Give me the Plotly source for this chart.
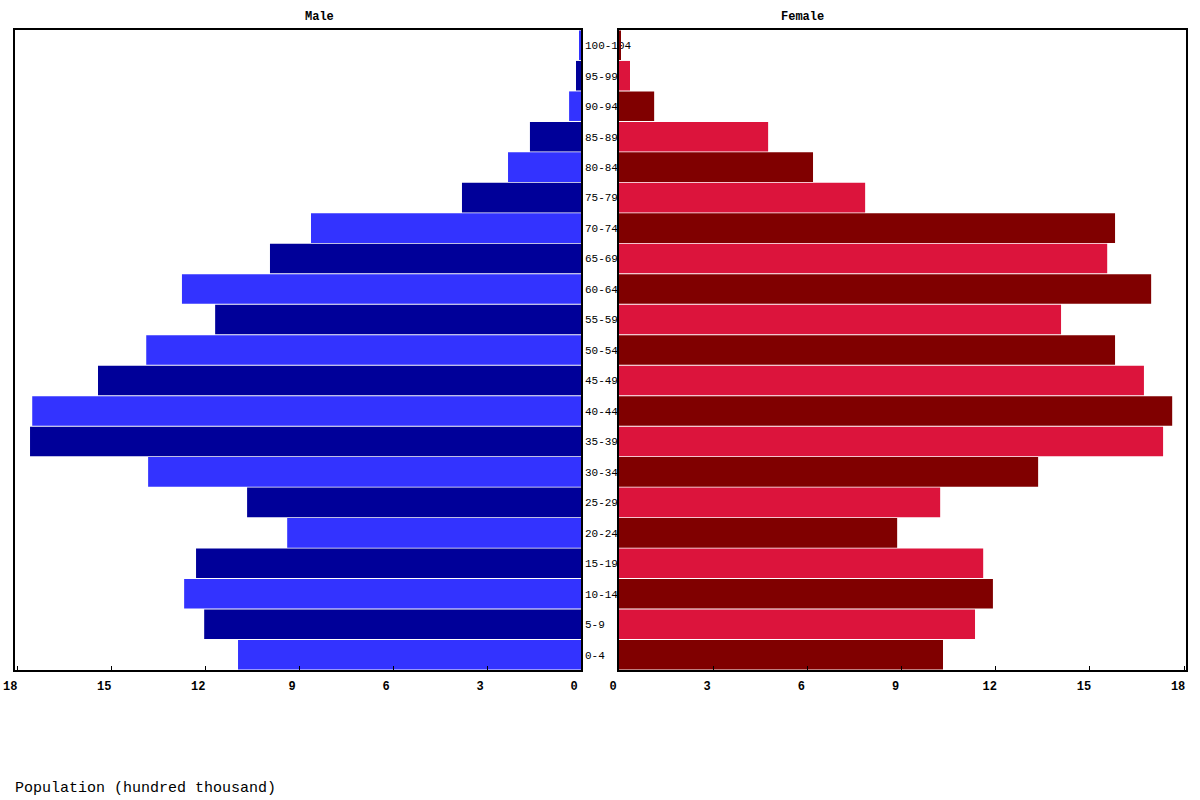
import plotly.graph_objects as go
from plotly.subplots import make_subplots

age_groups = ['0-4', '5-9', '10-14', '15-19', '20-24', '25-29', '30-34', '35-39', '40-44',
              '45-49', '50-54', '55-59', '60-64', '65-69', '70-74', '75-79', '80-84',
              '85-89', '90-94', '95-99', '100-104']

# population in hundred thousand
male = [10.95, 12.03, 12.67, 12.29, 9.38, 10.66, 13.82, 17.59, 17.52, 15.42, 13.88,
        11.68, 12.74, 9.93, 8.62, 3.80, 2.33, 1.63, 0.38, 0.16, 0.06]
female = [10.32, 11.34, 11.91, 11.60, 8.86, 10.23, 13.35, 17.33, 17.62, 16.72, 15.80,
          14.08, 16.95, 15.55, 15.80, 7.84, 6.18, 4.75, 1.12, 0.35, 0.06]

tick_values = [0, 3, 6, 9, 12, 15, 18]

MONO = 'Liberation Mono'
W, H = 1200, 800
L, R, T, B = 15, 14, 30, 130


def px_x(px):
    return (px - L) / (W - L - R)


def px_y(px):
    return (H - B - px) / (H - T - B)


male_colors = ['#3333ff' if i % 2 == 0 else '#000099' for i in range(len(age_groups))]
female_colors = ['#800000' if i % 2 == 0 else '#dc143c' for i in range(len(age_groups))]

fig = make_subplots(rows=1, cols=2, horizontal_spacing=0.0)

fig.add_trace(go.Bar(y=age_groups, x=male, orientation='h', marker=dict(color=male_colors, line=dict(width=0)),
                     name='Male', showlegend=False), row=1, col=1)
fig.add_trace(go.Bar(y=age_groups, x=female, orientation='h', marker=dict(color=female_colors, line=dict(width=0)),
                     name='Female', showlegend=False), row=1, col=2)

axis_common = dict(showline=True, linecolor='black', linewidth=1.5, mirror=True, showgrid=False,
                   zeroline=False, automargin=False)
xtick_font = dict(family=MONO, size=12, color='black', weight='bold')

# male axis is reversed, so a positive shift moves its labels left on screen
fig.update_xaxes(**axis_common, domain=[0, px_x(581)], range=[18.07, 0], tickvals=tick_values,
                 ticks='inside', ticklen=4, tickcolor='black', ticklabelshift=7, ticklabelstandoff=4,
                 tickfont=xtick_font, row=1, col=1)
fig.update_xaxes(**axis_common, domain=[px_x(619), 1.0], range=[0, 18.06], tickvals=tick_values,
                 ticks='inside', ticklen=4, tickcolor='black', ticklabelshift=-6, ticklabelstandoff=4,
                 tickfont=xtick_font, row=1, col=2)

fig.update_yaxes(**axis_common, side='right', ticks='', ticklabelstandoff=0,
                 tickfont=dict(family=MONO, size=11, color='black'), row=1, col=1)
fig.update_yaxes(**axis_common, showticklabels=False, ticks='', row=1, col=2)

fig.add_annotation(text='<b>Male</b>', xref='paper', yref='paper', x=px_x(303), y=px_y(17),
                   yanchor='middle', showarrow=False, font=dict(family=MONO, size=12, color='black'))
fig.add_annotation(text='<b>Female</b>', xref='paper', yref='paper', x=px_x(826), y=px_y(17),
                   yanchor='middle', showarrow=False, font=dict(family=MONO, size=12, color='black'))
fig.add_annotation(text='Population (hundred thousand)', xref='paper', yref='paper', x=px_x(13), y=px_y(788),
                   xanchor='left', yanchor='middle', showarrow=False, font=dict(family=MONO, size=15, color='black'))

fig.update_layout(width=W, height=H, margin=dict(l=L, r=R, t=T, b=B, autoexpand=False), bargap=0.03,
                  plot_bgcolor='white', paper_bgcolor='white', font=dict(family=MONO))

# drop the browser's default body margin so the figure sits at the window corner
fig.write_html('out.html', config={'displayModeBar': False},
               post_script="document.body.style.margin='0';")
